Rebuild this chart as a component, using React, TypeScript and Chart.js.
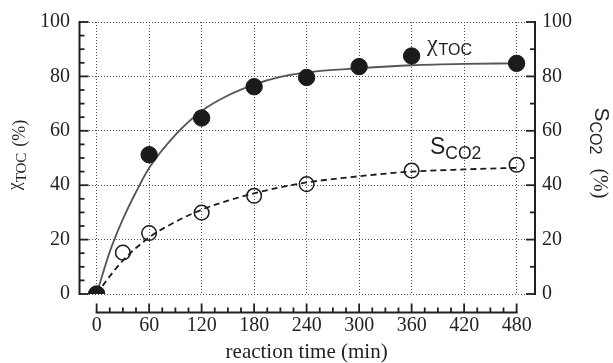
import React, { useEffect, useRef } from 'react';
import { Chart, registerables } from 'chart.js';

Chart.register(...registerables);

// ---- data ----
const xTickValues = [0, 60, 120, 180, 240, 300, 360, 420, 480];
const yTickValues = [0, 20, 40, 60, 80, 100];

const tocTime = [0, 60, 120, 180, 240, 300, 360, 480];
const tocValues = [0, 51.2, 64.7, 76.2, 79.6, 83.6, 87.5, 84.8];

const co2Time = [0, 30, 60, 120, 180, 240, 360, 480];
const co2Values = [0, 15.2, 22.4, 29.9, 36.1, 40.4, 45.4, 47.5];

const tocFitTime = [0, 15, 30, 45, 60, 90, 120, 150, 180, 210, 240, 300, 360, 420, 480];
const tocFitValues = [0, 15.5, 27.5, 37.5, 46.3, 58.5, 67.3, 73, 77, 79.8, 81.5, 83, 84.1, 84.6, 84.8];

const co2FitTime = [0, 15, 30, 60, 90, 120, 150, 180, 210, 240, 300, 360, 420, 480];
const co2FitValues = [0, 6.5, 12.3, 20.8, 26.5, 31, 34.3, 37, 39.2, 41, 43.3, 45, 45.8, 46.4];

// axis ranges
const xMin = -19;
const xMax = 501;
const yMin = 0;
const yMax = 100;

// label anchors (data units)
const tocLabelPos = { x: 377.5, y: 89.5 };
const co2LabelPos = { x: 381, y: 51.5 };

const xTitle = 'reaction time (min)';

const INK = '#231f20';
const GRID = 'rgba(60,60,60,0.9)';
const SERIF = '"Liberation Serif", "Times New Roman", serif';
const SANS = '"Liberation Sans", Arial, sans-serif';

const pts = (xs: number[], ys: number[]) => xs.map((x, i) => ({ x, y: ys[i] }));

const axesPlugin = {
  id: 'bracketAxes',
  afterDatasetsDraw(chart: any) {
    const { ctx, chartArea: ca, scales } = chart;
    const xs = scales.x;
    const ys = scales.y;
    const ys2 = scales.y2;
    ctx.save();
    ctx.strokeStyle = INK;
    ctx.lineCap = 'butt';

    // left axis
    const lx = ca.left - 0.5;
    ctx.lineWidth = 2;
    ctx.beginPath();
    ctx.moveTo(lx, ys.getPixelForValue(yMax) - 1);
    ctx.lineTo(lx, ys.getPixelForValue(yMin) + 1);
    ctx.stroke();
    ctx.lineWidth = 1.8;
    for (let v = yMin; v <= yMax; v += 5) {
      const py = ys.getPixelForValue(v);
      const len = v % 20 === 0 ? 9 : 5;
      ctx.beginPath();
      ctx.moveTo(lx, py);
      ctx.lineTo(lx + len, py);
      ctx.stroke();
    }

    // right axis
    const rx = ca.right;
    ctx.lineWidth = 2;
    ctx.beginPath();
    ctx.moveTo(rx, ys2.getPixelForValue(yMax) - 1);
    ctx.lineTo(rx, ys2.getPixelForValue(yMin) + 1);
    ctx.stroke();
    ctx.lineWidth = 1.8;
    for (let v = yMin; v <= yMax; v += 10) {
      const py = ys2.getPixelForValue(v);
      const len = v % 20 === 0 ? 9 : 5;
      ctx.beginPath();
      ctx.moveTo(rx, py);
      ctx.lineTo(rx - len, py);
      ctx.stroke();
    }

    // bottom axis (detached)
    const by = ca.bottom + 18.5;
    const x0 = xs.getPixelForValue(xTickValues[0]);
    const x1 = xs.getPixelForValue(xTickValues[xTickValues.length - 1]);
    ctx.lineWidth = 2;
    ctx.beginPath();
    ctx.moveTo(x0 - 1, by);
    ctx.lineTo(x1 + 1, by);
    ctx.stroke();
    ctx.lineWidth = 1.8;
    for (let v = xTickValues[0]; v <= xTickValues[xTickValues.length - 1]; v += 15) {
      const px = xs.getPixelForValue(v);
      const len = v % 60 === 0 ? 9 : 5;
      ctx.beginPath();
      ctx.moveTo(px, by);
      ctx.lineTo(px, by - len);
      ctx.stroke();
    }
    ctx.restore();
  },
};

function drawRuns(ctx: CanvasRenderingContext2D, runs: { t: string; font: string; dy: number; gap?: number }[], startX: number) {
  let x = startX;
  for (const r of runs) {
    ctx.font = r.font;
    x += r.gap || 0;
    ctx.fillText(r.t, x, r.dy);
    x += ctx.measureText(r.t).width;
  }
}
function runsWidth(ctx: CanvasRenderingContext2D, runs: { t: string; font: string; dy: number; gap?: number }[]) {
  let w = 0;
  for (const r of runs) {
    ctx.font = r.font;
    w += (r.gap || 0) + ctx.measureText(r.t).width;
  }
  return w;
}

const textPlugin = {
  id: 'texts',
  afterDraw(chart: any) {
    const { ctx, scales } = chart;
    const xs = scales.x;
    const ys = scales.y;
    const ys2 = scales.y2;
    ctx.save();
    ctx.fillStyle = INK;
    ctx.textBaseline = 'alphabetic';
    ctx.textAlign = 'left';

    // x title
    ctx.font = `21px ${SERIF}`;
    ctx.textAlign = 'center';
    ctx.fillText(xTitle, (xs.getPixelForValue(xTickValues[0]) + xs.getPixelForValue(xTickValues[xTickValues.length - 1])) / 2, 358);
    ctx.textAlign = 'left';

    // left title (rotated, bottom-to-top)
    const leftRuns = [
      { t: 'χ', font: `18px ${SERIF}`, dy: 0 },
      { t: 'TOC', font: `15px ${SERIF}`, dy: 6 },
      { t: '(%)', font: `18px ${SERIF}`, dy: 5, gap: 6 },
    ];
    ctx.save();
    ctx.translate(20, 155);
    ctx.rotate(-Math.PI / 2);
    drawRuns(ctx, leftRuns, -runsWidth(ctx, leftRuns) / 2);
    ctx.restore();

    // right title (rotated, top-to-bottom)
    const rightRuns = [
      { t: 'S', font: `21px ${SANS}`, dy: 0 },
      { t: 'CO2', font: `16px ${SANS}`, dy: 5 },
      { t: '(%)', font: `20px ${SERIF}`, dy: 1, gap: 14 },
    ];
    ctx.save();
    ctx.translate(595, 153);
    ctx.rotate(Math.PI / 2);
    drawRuns(ctx, rightRuns, -runsWidth(ctx, rightRuns) / 2);
    ctx.restore();

    // in-plot labels
    const tx = xs.getPixelForValue(tocLabelPos.x);
    const ty = ys.getPixelForValue(tocLabelPos.y);
    ctx.save();
    ctx.translate(tx, ty);
    drawRuns(ctx, [
      { t: 'χ', font: `24px ${SERIF}`, dy: 0 },
      { t: 'TOC', font: `16px ${SANS}`, dy: 4.7, gap: 1 },
    ], 0);
    ctx.restore();

    const sx = xs.getPixelForValue(co2LabelPos.x);
    const sy = ys2.getPixelForValue(co2LabelPos.y);
    ctx.save();
    ctx.translate(sx, sy);
    drawRuns(ctx, [
      { t: 'S', font: `23px ${SANS}`, dy: 0 },
      { t: 'CO2', font: `17.5px ${SANS}`, dy: 5 },
    ], 0);
    ctx.restore();

    ctx.restore();
  },
};

export default function App() {
  const ref = useRef<HTMLCanvasElement | null>(null);
  useEffect(() => {
    if (!ref.current) return;
    const tickFont = { family: SERIF, size: 20 };
    const chart = new Chart(ref.current, {
      type: 'scatter',
      data: {
        datasets: [
          {
            label: 'χTOC',
            data: pts(tocTime, tocValues),
            yAxisID: 'y',
            showLine: false,
            pointRadius: 8.2,
            pointBackgroundColor: '#1b1b1b',
            pointBorderColor: '#1b1b1b',
            pointBorderWidth: 1,
          },
          {
            label: 'SCO2',
            data: pts(co2Time, co2Values),
            yAxisID: 'y2',
            showLine: false,
            pointRadius: 7.3,
            pointBackgroundColor: 'rgba(0,0,0,0)',
            pointBorderColor: '#1b1b1b',
            pointBorderWidth: 1.5,
          },
          {
            label: 'χTOC fit',
            data: pts(tocFitTime, tocFitValues),
            yAxisID: 'y',
            showLine: true,
            borderColor: '#555555',
            borderWidth: 1.8,
            pointRadius: 0,
            cubicInterpolationMode: 'monotone',
            fill: false,
          },
          {
            label: 'SCO2 fit',
            data: pts(co2FitTime, co2FitValues),
            yAxisID: 'y2',
            showLine: true,
            borderColor: '#1b1b1b',
            borderWidth: 1.8,
            borderDash: [6, 4],
            pointRadius: 0,
            cubicInterpolationMode: 'monotone',
            fill: false,
          },
        ],
      } as any,
      options: {
        responsive: false,
        animation: false,
        events: [],
        layout: { padding: { top: 21, left: 0, right: 0, bottom: 0 } },
        plugins: { legend: { display: false }, tooltip: { enabled: false } },
        scales: {
          x: {
            type: 'linear',
            position: 'bottom',
            min: xMin,
            max: xMax,
            afterBuildTicks: (s: any) => {
              s.ticks = xTickValues.map((v) => ({ value: v }));
            },
            afterFit: (s: any) => {
              s.height = 69;
            },
            grid: { color: GRID, lineWidth: 1, drawTicks: false },
            border: { display: false, dash: [1, 2] },
            ticks: { font: tickFont, color: INK, padding: 20, maxRotation: 0, autoSkip: false },
          },
          y: {
            type: 'linear',
            position: 'left',
            min: yMin,
            max: yMax,
            afterBuildTicks: (s: any) => {
              s.ticks = yTickValues.map((v) => ({ value: v }));
            },
            afterFit: (s: any) => {
              s.width = 80;
            },
            grid: { color: GRID, lineWidth: 1, drawTicks: false },
            border: { display: false, dash: [1, 2] },
            ticks: { font: tickFont, color: INK, padding: 10 },
          },
          y2: {
            type: 'linear',
            position: 'right',
            min: yMin,
            max: yMax,
            afterBuildTicks: (s: any) => {
              s.ticks = yTickValues.map((v) => ({ value: v }));
            },
            afterFit: (s: any) => {
              s.width = 78;
            },
            grid: { display: false, drawTicks: false },
            border: { display: false },
            ticks: { font: tickFont, color: INK, padding: 7 },
          },
        },
      } as any,
      plugins: [axesPlugin, textPlugin],
    });
    return () => chart.destroy();
  }, []);

  return (
    <div style={{ position: 'fixed', left: 0, top: 0, width: 613, height: 363, background: '#fff' }}>
      <canvas ref={ref} width={613} height={363} style={{ width: 613, height: 363, display: 'block' }} />
    </div>
  );
}
